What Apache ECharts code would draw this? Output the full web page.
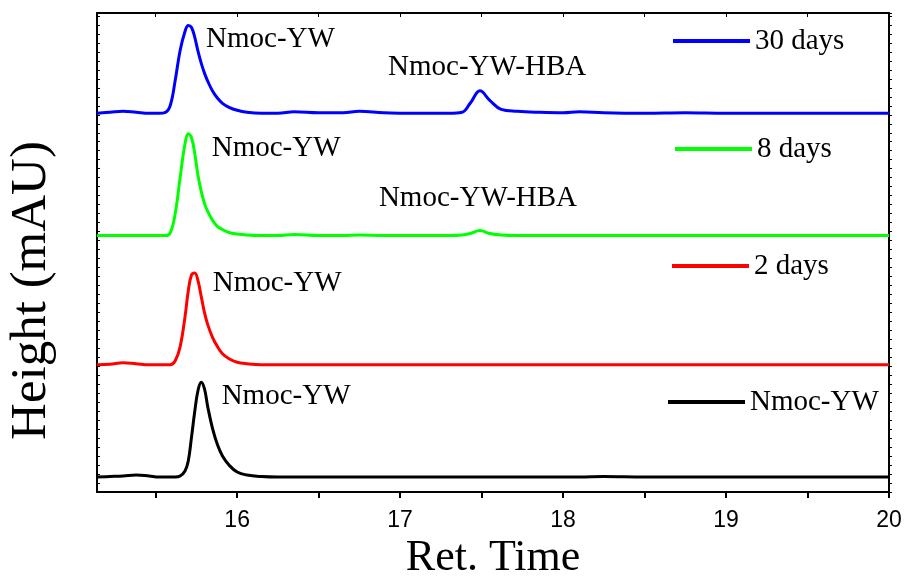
<!DOCTYPE html>
<html>
<head>
<meta charset="utf-8">
<title>Ret. Time</title>
<script src="https://cdn.jsdelivr.net/npm/echarts@6/dist/echarts.min.js"></script>
<style>
  html, body { margin: 0; padding: 0; background: #fff; }
  #main { width: 906px; height: 577px; }
</style>
</head>
<body>
<div id="main"></div>
<script>
// retention time (min)
var retTime = [15.14, 15.22, 15.30, 15.38, 15.46, 15.52, 15.56, 15.59, 15.62, 15.65,
  15.68, 15.70, 15.72, 15.74, 15.76, 15.78, 15.80, 15.82, 15.85, 15.88,
  15.91, 15.95, 16.00, 16.06, 16.15, 16.25, 16.35, 16.5, 16.65, 16.75,
  16.9, 17.1, 17.3, 17.38, 17.43, 17.49, 17.55, 17.62, 17.72, 17.85,
  18.0, 18.1, 18.25, 18.5, 18.75, 19.0, 19.3, 19.6, 20.0];

// signal above each trace's own baseline
var days30 = [0, 1, 2, 1, 0, 0, 1, 8, 33, 63,
  82, 88, 86, 76, 62, 50, 40, 32, 22, 15,
  10, 6, 3, 1, 0, 0, 1.5, 0.5, 0.5, 2,
  0.5, 0, 0, 1, 10, 22.5, 13, 4, 2, 1,
  0.5, 1.5, 0.5, 0, 0.5, 0, 0, 0, 0];
var days8 = [0, 0, 0, 0, 0, 0, 0, 3, 22, 58,
  92, 102, 98, 82, 60, 44, 32, 24, 15, 9,
  6, 3, 1.5, 0.5, 0, 0, 1, 0, 0, 0.5,
  0, 0, 0, 0.5, 2, 5, 2, 0.5, 0, 0,
  0, 0, 0, 0, 0, 0, 0, 0, 0];
var days2 = [0, 0.5, 2, 1, 0, 0, 0, 0, 4, 18,
  48, 74, 90, 92, 84, 68, 52, 40, 27, 18,
  11, 6, 2.5, 1, 0, 0, 0, 0, 0, 0,
  0, 0, 0, 0, 0, 0, 0, 0, 0, 0,
  0, 0, 0, 0, 0, 0, 0, 0, 0];
var nmocYW = [0, 0.5, 1, 2, 1, 0, 0, 0, 0, 1,
  6, 16, 40, 66, 87, 95, 88, 70, 48, 32,
  21, 12, 5, 2, 0.5, 0, 0, 0, 0, 0,
  0, 0, 0, 0, 0, 0, 0, 0, 0, 0,
  0, 0, 0.5, 0, 0, 0, 0, 0, 0];

// vertical stacking of the traces
var offsets = [379.5, 257, 127.5, 15];
var names = ['30 days', '8 days', '2 days', 'Nmoc-YW'];
var colors = ['#0000ff', '#00ff00', '#ff0000', '#000000'];

var xTicks = [15.5, 16, 16.5, 17, 17.5, 18, 18.5, 19, 19.5, 20];
var xLabels = [16, 17, 18, 19, 20];

var serif = 'Liberation Serif';

function trace(values, offset) {
  return retTime.map(function (t, i) { return [t, offset + values[i]]; });
}

// peak labels, in axis units
function peakNote(text, t, y) {
  return { name: text, coord: [t, y] };
}

var notes = [
  [peakNote('Nmoc-YW', 15.809, 454), peakNote('Nmoc-YW-HBA', 16.926, 425)],
  [peakNote('Nmoc-YW', 15.844, 344), peakNote('Nmoc-YW-HBA', 16.870, 294)],
  [peakNote('Nmoc-YW', 15.850, 209)],
  [peakNote('Nmoc-YW', 15.905, 96)]
];

var allValues = [days30, days8, days2, nmocYW];

var series = allValues.map(function (v, i) {
  return {
    name: names[i],
    type: 'line',
    data: trace(v, offsets[i]),
    showSymbol: false,
    symbol: 'none',
    smooth: 0.4,
    color: colors[i],
    lineStyle: { color: colors[i], width: 3 },
    markPoint: {
      symbol: 'circle',
      symbolSize: 0,
      silent: true,
      label: {
        show: true,
        position: 'right',
        distance: 0,
        formatter: '{b}',
        color: '#000',
        fontFamily: serif,
        fontSize: 29
      },
      data: notes[i]
    }
  };
});

// one legend box per trace, each placed on its own
var legendPos = [[673, 26], [675, 134], [672, 251], [668, 387]];
var legends = names.map(function (n, i) {
  return {
    data: [n],
    left: legendPos[i][0],
    top: legendPos[i][1],
    padding: 0,
    icon: 'rect',
    itemWidth: 77,
    itemHeight: 4,
    selectedMode: false,
    textStyle: { color: '#000', fontFamily: serif, fontSize: 29, lineHeight: 30 }
  };
});

var chart = echarts.init(document.getElementById('main'));
var option = {
  animation: false,
  backgroundColor: '#fff',
  grid: { left: 97, top: 13, width: 792, height: 479, containLabel: false, outerBoundsMode: 'none' },
  legend: legends,
  xAxis: [{
    type: 'value',
    min: 15.14,
    max: 20,
    name: 'Ret. Time',
    nameLocation: 'middle',
    nameGap: 32,
    nameTextStyle: { color: '#000', fontFamily: serif, fontSize: 44 },
    axisLine: { onZero: false, lineStyle: { color: '#000', width: 2 } },
    axisTick: { show: true, inside: false, length: 6, lineStyle: { color: '#000', width: 2 }, customValues: xTicks },
    axisLabel: { color: '#000', fontFamily: 'Liberation Sans', fontSize: 23, margin: 17, customValues: xLabels },
    splitLine: { show: false }
  }, {
    type: 'value',
    position: 'top',
    min: 15.14,
    max: 20,
    axisLine: { onZero: false, lineStyle: { color: '#000', width: 2 } },
    axisTick: { show: true, inside: true, length: 4, lineStyle: { color: '#000', width: 1 }, customValues: xTicks },
    axisLabel: { show: false },
    splitLine: { show: false }
  }],
  yAxis: [{
    type: 'value',
    min: 0,
    max: 480,
    interval: 9,
    name: 'Height (mAU)',
    nameLocation: 'middle',
    nameRotate: 90,
    nameGap: 40,
    // extra room on one side pushes the title down a little
    nameTextStyle: { color: '#000', fontFamily: serif, fontSize: 51, padding: [0, 76, 0, 0] },
    axisLine: { onZero: false, lineStyle: { color: '#000', width: 2 } },
    axisTick: { show: true, inside: true, length: 3, lineStyle: { color: '#000', width: 1 } },
    axisLabel: { show: false },
    splitLine: { show: false }
  }, {
    type: 'value',
    position: 'right',
    min: 0,
    max: 480,
    interval: 9,
    axisLine: { onZero: false, lineStyle: { color: '#000', width: 2 } },
    axisTick: { show: true, inside: false, length: 3, lineStyle: { color: '#000', width: 1 } },
    axisLabel: { show: false },
    splitLine: { show: false }
  }],
  series: series
};
chart.setOption(option);
</script>
</body>
</html>
